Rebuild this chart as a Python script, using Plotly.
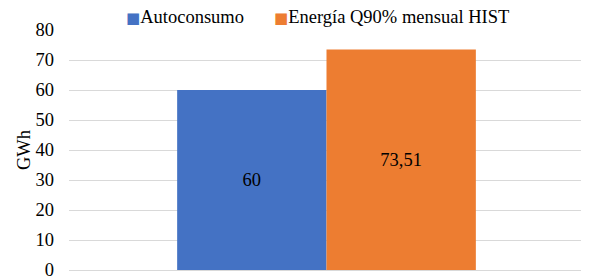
import plotly.graph_objects as go

categories = [""]
series_names = ["Autoconsumo", "Energía Q90% mensual HIST"]
autoconsumo = [60]
energia_q90 = [73.51]
colors = ["#4472C4", "#ED7D31"]
y_ticks = [0, 10, 20, 30, 40, 50, 60, 70, 80]

FONT = "Liberation Serif, Times New Roman, serif"
FS = 18.5

# page body has an 8px default margin; figure sized to fill the rest
W, H = 581, 270

fig = go.Figure()
for name, vals, col in zip(series_names, [autoconsumo, energia_q90], colors):
    fig.add_trace(go.Bar(
        x=categories, y=vals, name=name, marker_color=col,
        marker_line_width=0, showlegend=False,
        texttemplate="%{y}", textposition="inside", insidetextanchor="middle",
        textfont=dict(family=FONT, size=FS, color="black"),
    ))

# legend drawn as annotations (square marker + label)
legend_x = [0.1068, 0.3942]
for name, col, lx in zip(series_names, colors, legend_x):
    fig.add_annotation(
        xref="paper", yref="paper", x=lx, y=1.054, xanchor="left", yanchor="middle",
        showarrow=False,
        text=f'<span style="color:{col};font-size:15px;font-family:DejaVu Sans">■</span>{name}',
        font=dict(family=FONT, size=FS, color="black"),
    )

fig.update_layout(
    width=W, height=H,
    margin=dict(l=61, r=5, t=22, b=8, autoexpand=False),
    paper_bgcolor="white", plot_bgcolor="white",
    barmode="group", bargap=0.42, bargroupgap=0,
    separators=",.",
    font=dict(family=FONT, size=FS, color="black"),
    showlegend=False,
    uniformtext=dict(mode="show", minsize=FS),
)
fig.update_yaxes(range=[0, 80], tickvals=y_ticks, showgrid=True, gridcolor="#d9d9d9",
                 gridwidth=1, zeroline=True, zerolinecolor="#d9d9d9", zerolinewidth=1,
                 showline=False, ticks="", ticklen=0, automargin=False,
                 ticklabelstandoff=14, ticklabeloverflow="allow",
                 title=dict(text="GWh", font=dict(family=FONT, size=FS), standoff=0),
                 tickfont=dict(family=FONT, size=FS))
fig.update_xaxes(showticklabels=False, showgrid=False, showline=False, ticks="", automargin=False)

fig.write_html("out.html")
